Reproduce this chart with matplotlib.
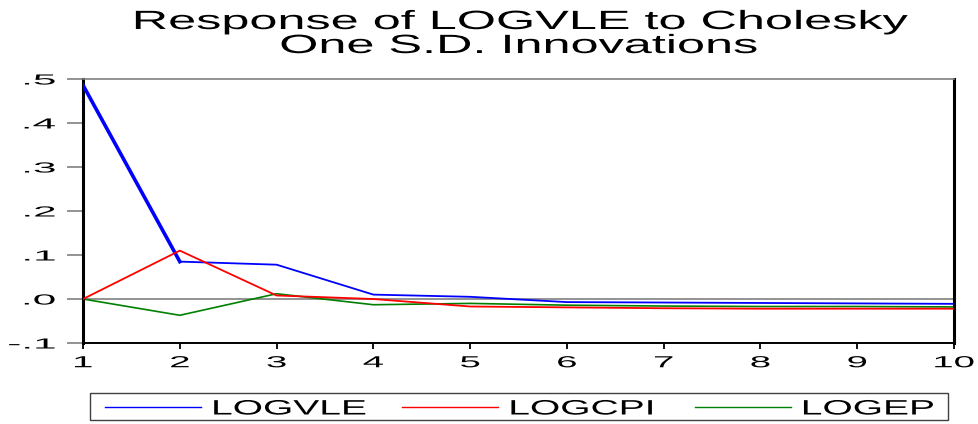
import matplotlib
matplotlib.use("Agg")
import matplotlib.pyplot as plt
from matplotlib.patheffects import AbstractPathEffect
from matplotlib.transforms import Affine2D
from matplotlib.patches import Rectangle

plt.rcParams['font.family'] = ['Liberation Sans', 'DejaVu Sans']

periods = [1, 2, 3, 4, 5, 6, 7, 8, 9, 10]
logvle = [0.486, 0.085, 0.078, 0.010, 0.005, -0.007, -0.008, -0.009, -0.010, -0.011]
logcpi = [0.000, 0.110, 0.008, 0.000, -0.017, -0.019, -0.021, -0.022, -0.022, -0.022]
logep = [0.000, -0.037, 0.012, -0.013, -0.010, -0.014, -0.016, -0.017, -0.017, -0.018]
yticks = [-0.1, 0.0, 0.1, 0.2, 0.3, 0.4, 0.5]
ytick_labels = ['-.1', '.0', '.1', '.2', '.3', '.4', '.5']


# EViews draws its text wide: stretch glyphs horizontally
class Stretch(AbstractPathEffect):
    def __init__(self, sx, anchor='center'):
        super().__init__()
        self.sx = sx
        self.anchor = anchor

    def draw_path(self, renderer, gc, tpath, affine, rgbFace=None):
        ext = tpath.get_extents()
        if self.anchor == 'left':
            cx = ext.x0
        elif self.anchor == 'right':
            cx = ext.x1
        else:
            cx = (ext.x0 + ext.x1) / 2
        t = Affine2D().translate(-cx, 0).scale(self.sx, 1).translate(cx, 0) + affine
        renderer.draw_path(gc, tpath, t, rgbFace)


fig = plt.figure(figsize=(9.79, 4.24), dpi=100)
ax = fig.add_axes([0.0848, 0.1910, 0.8897, 0.6227])

ax.axhline(0, color='#808080', linewidth=1.2, zorder=1)
ax.plot(periods, logvle, color='#0000ff', linewidth=1.3, label='LOGVLE', zorder=3)
ax.plot(periods[:2], logvle[:2], color='#0000ff', linewidth=2.6, zorder=3)
ax.plot(periods, logcpi, color='#ff0000', linewidth=1.3, label='LOGCPI', zorder=3)
ax.plot(periods, logep, color='#008000', linewidth=1.2, label='LOGEP', zorder=2)

ax.set_xlim(1, 10)
ax.set_ylim(-0.1, 0.5)
ax.set_xticks(periods)
ax.set_xticklabels([str(p) for p in periods], fontsize=11.5)
ax.set_yticks(yticks)
ax.set_yticklabels(ytick_labels, fontsize=10.5)
ax.tick_params(axis='y', length=11.5, width=1.2, color='#808080', pad=8.5)
ax.tick_params(axis='x', length=4.3, width=1.3, pad=4.5)

for lab in ax.get_yticklabels():
    lab.set_path_effects([Stretch(2.9, 'right')])
for lab in ax.get_xticklabels():
    lab.set_path_effects([Stretch(2.4, 'center')])

ax.spines['left'].set_linewidth(2.2)
ax.spines['right'].set_linewidth(2.2)
ax.spines['bottom'].set_linewidth(1.4)
ax.spines['top'].set_linewidth(1.2)
ax.spines['top'].set_color('#808080')

t1 = fig.text(0.532, 1 - 29 / 424, 'Response of LOGVLE to Cholesky',
              ha='center', va='baseline', fontsize=19)
t2 = fig.text(0.530, 1 - 53 / 424, 'One S.D. Innovations',
              ha='center', va='baseline', fontsize=19)
for t in (t1, t2):
    t.set_path_effects([Stretch(1.91, 'center')])

# legend frame
fig.patches.append(Rectangle((90 / 979, 1 - 420 / 424), 858 / 979, 27 / 424,
                             transform=fig.transFigure, fill=False,
                             edgecolor='#404040', linewidth=1.0))

leg = fig.legend(loc='center left', bbox_to_anchor=(105 / 979, 1 - 409 / 424),
                 ncol=3, fontsize=15, handlelength=4.61, handletextpad=0.55,
                 columnspacing=5.1, frameon=False, borderpad=0, borderaxespad=0)
for line in leg.get_lines():
    line.set_linewidth(1.0)
for txt in leg.get_texts():
    txt.set_path_effects([Stretch(1.87, 'left')])

fig.savefig('out.png', dpi=100)
